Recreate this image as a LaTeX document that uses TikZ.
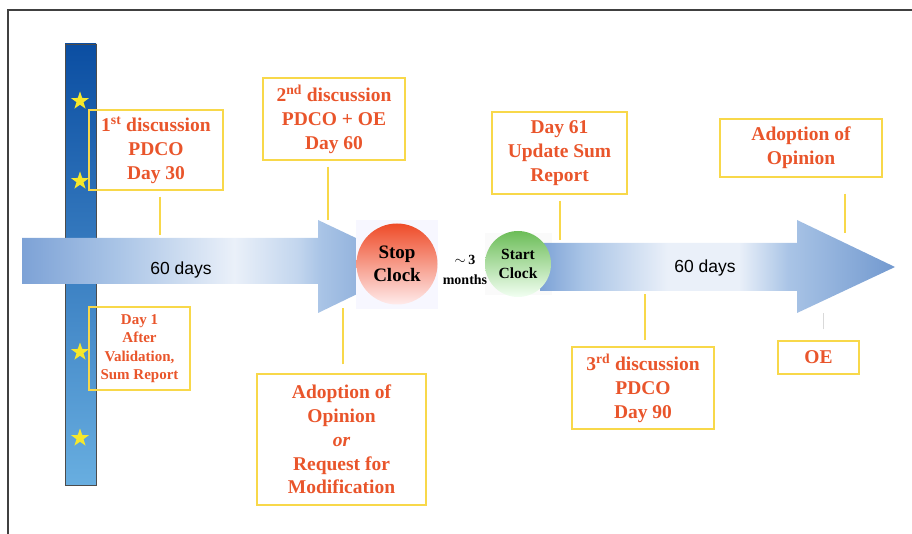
\documentclass[tikz,border=0pt]{standalone}
\usepackage{fontspec}
\setmainfont{Liberation Serif}
\setsansfont{Liberation Sans}
\usepackage{xcolor}
\usepackage{tikz}
\usetikzlibrary{shapes.geometric}
\usetikzlibrary{calc}
\definecolor{notered}{HTML}{E9552B}
\definecolor{noteyellow}{HTML}{F8D84A}
\definecolor{barTop}{HTML}{0B4EA2}
\definecolor{barBot}{HTML}{68AEE0}
\definecolor{starYellow}{HTML}{F6E82C}
\definecolor{arrA}{HTML}{7DA2D6}
\definecolor{arrB}{HTML}{A9C4E6}
\definecolor{arrW}{HTML}{EAF0F9}
\definecolor{arrC}{HTML}{C3D6EE}
\definecolor{arrD}{HTML}{7299CF}
\definecolor{stopRed}{HTML}{EE4B28}
\definecolor{startGreen}{HTML}{6CBD58}
\pgfdeclarehorizontalshading{leftshaft}{100bp}{color(0bp)=(arrA); color(25bp)=(arrA); color(37bp)=(arrB); color(52bp)=(arrW); color(60bp)=(arrC); color(63bp)=(arrB); color(75bp)=(arrD); color(100bp)=(arrD)}
\pgfdeclarehorizontalshading{rightshaft}{100bp}{color(0bp)=(arrA); color(25bp)=(arrA); color(31bp)=(arrB); color(43bp)=(arrW); color(53bp)=(arrW); color(60bp)=(arrB); color(75bp)=(arrD); color(100bp)=(arrD)}
\tikzstyle{note}=[rectangle,draw=noteyellow,line width=1.2pt,text=notered,align=center,inner sep=2pt,font=\bfseries\fontsize{19.5}{23.8}\selectfont]
\tikzstyle{link}=[draw=noteyellow,line width=1.2pt]
\tikzstyle{eustar}=[star,star points=5,star point ratio=2.55,fill=starYellow,minimum size=19pt,inner sep=0pt]
\tikzset{clock/.style={circle,inner sep=0pt,align=center,font=\bfseries}}

\begin{document}
\begin{tikzpicture}[x=1pt,y=1pt]
  \useasboundingbox (0,0) rectangle (912,-534);
  % frame
  \draw[line width=1.3pt,black!75] (8,-534) -- (8,-10) -- (912,-10);

  % EU bar
  \draw[top color=barTop,bottom color=barBot,draw=black!70,line width=0.9pt] (65,-44) rectangle (96,-485);
  \foreach \y/\name in {101/s1, 181/s2, 352/s3, 438/s4}
      \node[eustar] (\name) at (80,-\y) {};

  % arrows
  \path[shading=leftshaft] (22,-238) -- (318,-238) -- (318,-220) -- (415,-266) -- (318,-313) -- (318,-284) -- (22,-284) -- cycle;
  \fill[black!3!blue!3] (356,-220) rectangle (438,-309);
  \fill[green!3!black!2] (485,-233) rectangle (552,-295);
  \path[shading=rightshaft] (540,-243) -- (797,-243) -- (797,-220) -- (895,-267) -- (797,-313) -- (797,-291) -- (540,-291) -- cycle;

  % clocks
  \node[clock,minimum size=81pt,top color=stopRed,bottom color=red!8!white,font=\bfseries\fontsize{19}{23}\selectfont] (stop) at (397,-264) {Stop\\Clock};
  \node[clock,minimum size=66pt,top color=startGreen,bottom color=green!5!white,font=\bfseries\fontsize{15.5}{19}\selectfont] (start) at (518,-264) {Start\\Clock};
  \node[align=center,font=\bfseries\fontsize{14}{20}\selectfont] (pause) at (465,-270) {$\sim$\,3\\months};

  \node[font=\sffamily\fontsize{17.5}{20}\selectfont] (span1) at (181,-270) {60 days};
  \node[font=\sffamily\fontsize{17.5}{20}\selectfont] (span2) at (705,-268) {60 days};

  % boxes
  \foreach \x/\y/\w/\h/\name/\label in {
      156/150/134/80/d30/{1\textsuperscript{st} discussion\\PDCO\\Day 30},
      334/119/142/82/d60/{2\textsuperscript{nd} discussion\\PDCO + OE\\Day 60},
      559.5/153/135/82/d61/{Day 61\\Update Sum\\Report},
      801/148/162/58/final/{Adoption of\\Opinion},
      341.5/439.5/169/131/opinion/{Adoption of\\Opinion\\\textit{or}\\Request for\\Modification},
      643/388/142/82/d90/{3\textsuperscript{rd} discussion\\PDCO\\Day 90},
      818.5/357.5/81/33/oe/{OE}}
          \node[note,minimum width=\w pt,minimum height=\h pt] (\name) at (\x,-\y) {\label};

  \node[note,minimum width=101pt,minimum height=83pt,font=\bfseries\fontsize{15}{18.3}\selectfont] (d1) at (139.5,-348.5) {Day 1\\After\\Validation,\\Sum Report};

  % connectors
  \foreach \name/\x/\y/\gap in {d30/160/235/6, d60/328/220/6, d61/560/240/6, final/845/233/16}
  {
      \coordinate (\name-end) at (\x,-\y);
      \draw[link,shorten <=\gap pt] (\name.south -| \name-end) -- (\name-end);
  }
  \foreach \name/\x/\y/\gap in {opinion/343/308/9, d90/645/294/6}
  {
      \coordinate (\name-end) at (\x,-\y);
      \draw[link,shorten <=\gap pt] (\name.north -| \name-end) -- (\name-end);
  }
  \coordinate (oe-end) at (823,-313);
  \draw[black!15,line width=0.8pt,shorten <=11pt] (oe.north -| oe-end) -- (oe-end);

\end{tikzpicture}
\end{document}
